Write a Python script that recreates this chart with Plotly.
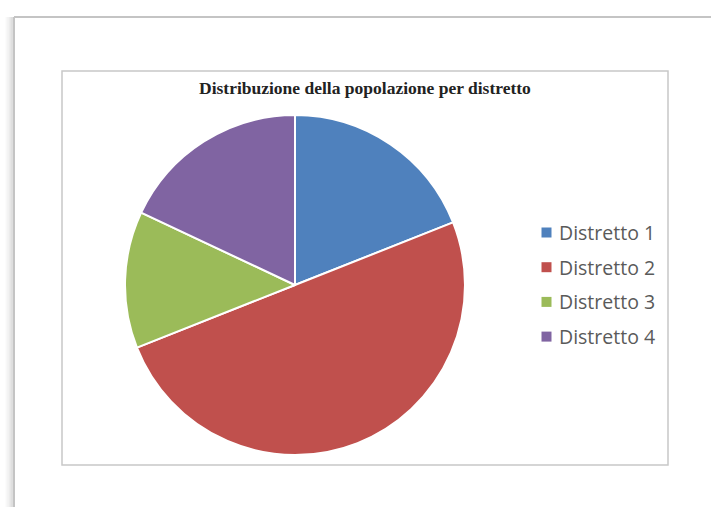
import plotly.graph_objects as go

# Population share per district (percent)
districts = ["Distretto 1", "Distretto 2", "Distretto 3", "Distretto 4"]
population = [19, 50, 13, 18]
colors = ["#4F81BD", "#C0504D", "#9BBB59", "#8064A2"]

title_text = "Distribuzione della popolazione per distretto"

W, H = 711, 507


def px(x):
    return x / W


def py(y):
    return 1 - y / H


fig = go.Figure()

fig.add_trace(go.Pie(
    labels=districts,
    values=population,
    sort=False,
    direction="clockwise",
    rotation=0,
    marker=dict(colors=colors, line=dict(color="white", width=2)),
    textinfo="none",
    hoverinfo="label+percent",
    showlegend=False,
    domain=dict(x=[px(125), px(465)], y=[py(455), py(115)]),
))

shapes = []

# soft shadow along the page's left edge
for i, op in enumerate([0.02, 0.035, 0.05, 0.07, 0.1, 0.13]):
    xx = 6 + i * 1.3
    shapes.append(dict(type="line", xref="paper", yref="paper",
                       x0=px(xx), x1=px(xx), y0=py(17), y1=0,
                       line=dict(color=f"rgba(0,0,0,{op})", width=1.5)))

# page outline
shapes.append(dict(type="line", xref="paper", yref="paper",
                   x0=px(14), x1=px(14), y0=py(17), y1=0,
                   line=dict(color="#c4c4c4", width=2)))
shapes.append(dict(type="line", xref="paper", yref="paper",
                   x0=px(14), x1=1, y0=py(17), y1=py(17),
                   line=dict(color="#c4c4c4", width=2)))

# chart area frame
shapes.append(dict(type="rect", xref="paper", yref="paper",
                   x0=px(62), x1=px(668), y0=py(465), y1=py(71),
                   line=dict(color="#c8c8c8", width=1.5),
                   fillcolor="rgba(0,0,0,0)"))

# legend swatches and labels
annotations = []
legend_y0, legend_step = 232.5, 34.7
for i, (name, col) in enumerate(zip(districts, colors)):
    yc = legend_y0 + i * legend_step
    shapes.append(dict(type="rect", xref="paper", yref="paper",
                       x0=px(541.5), x1=px(551.5), y0=py(yc + 5), y1=py(yc - 5),
                       line=dict(width=0), fillcolor=col))
    annotations.append(dict(text=name, xref="paper", yref="paper",
                            x=px(557), y=py(yc), xanchor="left", yanchor="middle",
                            showarrow=False,
                            font=dict(family="Open Sans", size=19.5, color="#5a5a5a")))

annotations.append(dict(text=f"<b>{title_text}</b>", xref="paper", yref="paper",
                        x=px(365), y=py(88), xanchor="center", yanchor="middle",
                        showarrow=False,
                        font=dict(family="Liberation Serif", size=17.5, color="#222222")))

fig.update_layout(
    width=W, height=H, autosize=False,
    margin=dict(l=0, r=0, t=0, b=0),
    paper_bgcolor="white", plot_bgcolor="white",
    shapes=shapes, annotations=annotations,
)

fig.write_html("out.html")
